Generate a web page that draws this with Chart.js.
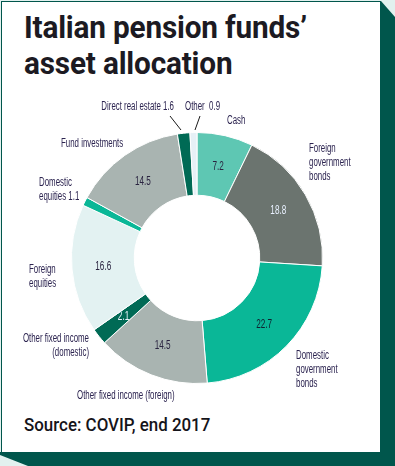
<!DOCTYPE html>
<html lang="en">
<head>
  <meta charset="UTF-8" />
  <title>Italian pension funds' asset allocation</title>
  <script src="https://cdn.jsdelivr.net/npm/chart.js"></script>
  <style>
    html, body { margin: 0; padding: 0; }
    body { width: 395px; height: 466px; position: relative; background: #e2f1ef; overflow: hidden; }
    .shadow {
      position: absolute; left: 0; top: 0; width: 395px; height: 466px; background: #00564c;
      clip-path: polygon(381px 1px, 395px 17px, 395px 466px, 28px 466px, 0px 455px, 0px 452px, 381px 452px);
    }
    .card {
      position: absolute; left: 1px; top: 1px; width: 378px; height: 450px;
      background: #fff; border: 1px solid #00564c;
    }
    .title {
      position: absolute; left: 24px; top: 9px; margin: 0;
      font-family: Roboto, "DejaVu Sans", sans-serif; font-weight: 700; font-size: 32px;
      line-height: 36px; color: #1c1a22; transform-origin: 0 0; transform: scaleX(0.93);
      white-space: nowrap; letter-spacing: -0.2px;
    }
    .source {
      position: absolute; left: 24px; top: 413px;
      font-family: Roboto, "DejaVu Sans", sans-serif; font-weight: 500; font-size: 19px;
      color: #15141a; transform-origin: 0 0; transform: scaleX(0.89); white-space: nowrap;
    }
    #chartBox { position: absolute; left: 0; top: 0; width: 395px; height: 466px; }
  </style>
</head>
<body>
  <div class="shadow"></div>
  <div class="card"></div>
  <h1 class="title">Italian pension funds’<br>asset allocation</h1>
  <div class="source">Source: COVIP, end 2017</div>
  <div id="chartBox"><canvas id="donut" width="395" height="466"></canvas></div>

  <script>
    // data, clockwise from 12 o'clock
    const categories = [
      'Cash', 'Foreign government bonds', 'Domestic government bonds',
      'Other fixed income (foreign)', 'Other fixed income (domestic)', 'Foreign equities',
      'Domestic equities', 'Fund investments', 'Direct real estate', 'Other'
    ];
    const values = [7.2, 18.8, 22.7, 14.5, 2.1, 16.6, 1.1, 14.5, 1.6, 0.9];
    const sliceColors = ['#5ec7b3', '#6b746f', '#0ab797', '#a9b4b1', '#006a55',
                         '#e3f2f2', '#0ab797', '#a9b4b1', '#006a55', '#e6f0f6'];
    const valueColors = ['#2a2440', '#e9f1ff', '#0f2230', '#2a2440', '#eef6ff',
                         '#2a2440', null, '#2a2440', null, null];

    // outside label text (lines) and where it sits
    const labelLines = [
      ['Cash'], ['Foreign', 'government', 'bonds'], ['Domestic', 'government', 'bonds'],
      ['Other fixed income (foreign)'], ['Other fixed income', '(domestic)'], ['Foreign', 'equities'],
      ['Domestic', 'equities 1.1'], ['Fund investments'], ['Direct real estate 1.6'], ['Other  0.9']
    ];
    const labelLayout = [
      { x: 227, y: 121, align: 'left' },
      { x: 309, y: 149, align: 'left' },
      { x: 296, y: 356, align: 'left' },
      { x: 77, y: 396, align: 'left' },
      { x: 89, y: 339, align: 'right' },
      { x: 29, y: 270, align: 'left' },
      { x: 39, y: 183, align: 'left' },
      { x: 61, y: 144, align: 'left' },
      { x: 174, y: 107, align: 'right' },
      { x: 185, y: 107, align: 'left' }
    ];
    const leaders = { 8: [170, 116, 181, 130], 9: [200, 116, 195, 130] };

    const labelFont = '12.5px "Liberation Sans Narrow", "Liberation Sans", sans-serif';
    const valueFont = '13px "Liberation Sans Narrow", "Liberation Sans", sans-serif';
    const squeeze = 0.63;

    const drawText = (ctx, text, x, y, align) => {
      ctx.save();
      ctx.translate(x, y);
      ctx.scale(squeeze, 1);
      ctx.textAlign = align;
      ctx.fillText(text, 0, 0);
      ctx.restore();
    };

    const donutLabels = {
      id: 'donutLabels',
      afterDatasetsDraw(chart) {
        const ctx = chart.ctx;
        const arcs = chart.getDatasetMeta(0).data;
        ctx.save();
        ctx.textBaseline = 'middle';
        // values inside the ring
        ctx.font = valueFont;
        arcs.forEach((arc, i) => {
          if (!valueColors[i]) return;
          const p = arc.tooltipPosition();
          ctx.fillStyle = valueColors[i];
          drawText(ctx, values[i].toFixed(1), p.x, p.y, 'center');
        });
        // category labels outside
        ctx.font = labelFont;
        ctx.fillStyle = '#2c2450';
        labelLines.forEach((lines, i) => {
          const l = labelLayout[i];
          lines.forEach((t, k) => drawText(ctx, t, l.x, l.y + k * 14, l.align));
        });
        ctx.strokeStyle = '#1a1a1a';
        ctx.lineWidth = 1;
        Object.values(leaders).forEach(([x1, y1, x2, y2]) => {
          ctx.beginPath();
          ctx.moveTo(x1, y1);
          ctx.lineTo(x2, y2);
          ctx.stroke();
        });
        ctx.restore();
      }
    };

    new Chart(document.getElementById('donut'), {
      type: 'doughnut',
      data: {
        labels: categories,
        datasets: [{
          data: values,
          backgroundColor: sliceColors,
          borderColor: '#ffffff',
          borderWidth: 1
        }]
      },
      options: {
        responsive: false,
        animation: false,
        cutout: '50%',
        layout: { padding: { left: 71, right: 72, top: 132, bottom: 82 } },
        plugins: { legend: { display: false }, tooltip: { enabled: false } }
      },
      plugins: [donutLabels]
    });
  </script>
</body>
</html>
